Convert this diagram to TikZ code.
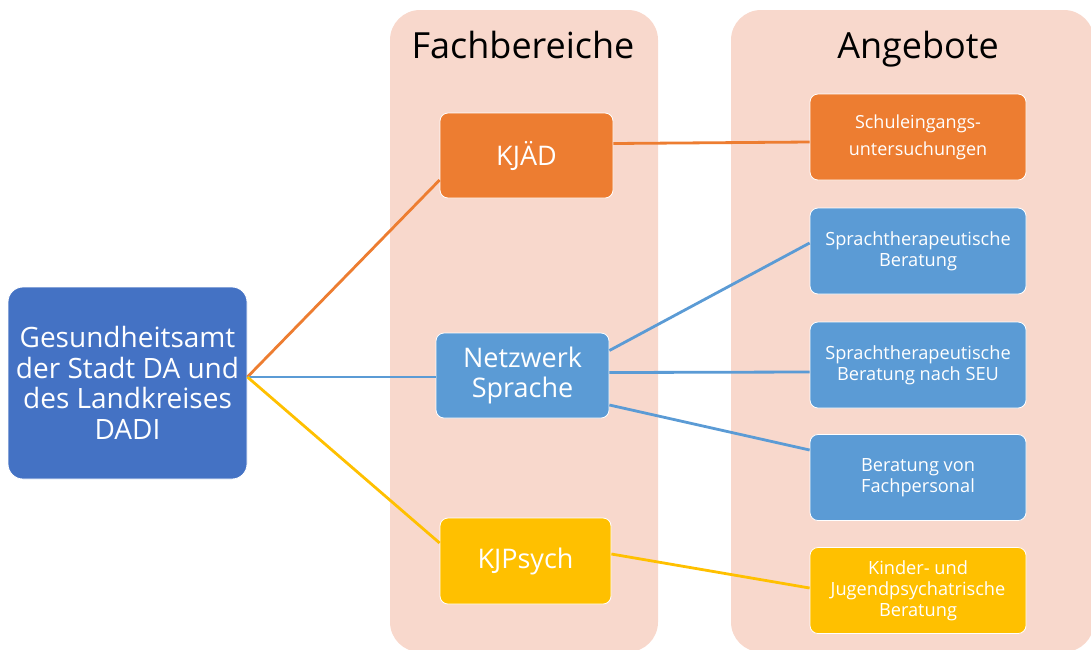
\documentclass[tikz,border=0pt]{standalone}
\usepackage{fontspec}
\setmainfont{Open Sans}
\definecolor{panelc}{RGB}{248,216,204}
\definecolor{gsblue}{RGB}{68,114,196}
\definecolor{ltblue}{RGB}{91,155,213}
\definecolor{orng}{RGB}{237,125,49}
\definecolor{yllw}{RGB}{255,192,0}
\tikzset{
  panel/.style={fill=panelc, draw=none, rounded corners=30pt},
  title/.style={font=\fontsize{36}{40}\selectfont, text=black, anchor=base},
  mainbox/.style={draw=white, line width=0.8pt, rounded corners=15pt, fill=gsblue, text=white,
    minimum width=239pt, minimum height=192pt, align=center, inner sep=2pt,
    font=\fontsize{28}{30.5}\selectfont},
  midbox/.style={draw=white, line width=0.8pt, rounded corners=8pt, text=white,
    minimum width=173pt, minimum height=85pt, align=center, inner sep=2pt,
    font=\fontsize{27}{30}\selectfont},
  offbox/.style={draw=white, line width=0.8pt, rounded corners=8pt, text=white,
    minimum width=216pt, minimum height=86pt, align=center, inner sep=2pt,
    font=\fontsize{18.2}{21}\selectfont},
  conn/.style={line width=2.8pt},
}
\begin{document}
\begin{tikzpicture}[x=1pt,y=-1pt]
\useasboundingbox (0,0) rectangle (1091,649);
\begin{scope}
\clip (0,0) rectangle (1091,649);
\fill[panel] (390,10) rectangle (658,652);
\fill[panel] (731,10) rectangle (1094,652);
\end{scope}
\node[title] (t1) at (523,58) {Fachbereiche};
\node[title] (t2) at (918,58) {Angebote};

\node[mainbox] (gs) at (127.5,383) {Gesundheitsamt\\der Stadt DA und\\des Landkreises\\DADI};
\node[midbox, fill=orng] (kjad) at (526.5,155.5) {KJÄD};
\node[midbox, fill=ltblue] (netz) at (522.5,375.5) {Netzwerk\\Sprache};
\node[midbox, fill=yllw, minimum width=171pt, minimum height=86pt] (kjp) at (525.5,561) {KJPsych};

\node[offbox, fill=orng, font=\fontsize{18}{27}\selectfont] (schul) at (918,137) {Schuleingangs-\\untersuchungen};
\node[offbox, fill=ltblue] (spr1) at (918,251) {Sprachtherapeutische\\Beratung};
\node[offbox, fill=ltblue] (spr2) at (918,365) {Sprachtherapeutische\\Beratung nach SEU};
\node[offbox, fill=ltblue] (ber) at (918,477.5) {Beratung von\\Fachpersonal};
\node[offbox, fill=yllw] (kin) at (918,590.5) {Kinder- und\\Jugendpsychatrische\\Beratung};

\coordinate (gsout) at ([yshift=6pt]gs.east);
\draw[conn, orng] (gsout) -- ([yshift=-24.5pt]kjad.west);
\draw[conn, ltblue] (gsout) -- ([yshift=-1.5pt]netz.west);
\draw[conn, yllw] (gsout) -- ([yshift=18pt]kjp.west);
\draw[conn, orng] ([yshift=12pt]kjad.east) -- ([yshift=-5pt]schul.west);
\draw[conn, ltblue] ([yshift=25pt]netz.east) -- ([yshift=8pt]spr1.west);
\draw[conn, ltblue] ([yshift=3pt]netz.east) -- ([yshift=-7pt]spr2.west);
\draw[conn, ltblue] ([yshift=-29.5pt]netz.east) -- ([yshift=27.5pt]ber.west);
\draw[conn, yllw] ([yshift=7pt]kjp.east) -- ([yshift=2.5pt]kin.west);
\end{tikzpicture}
\end{document}
